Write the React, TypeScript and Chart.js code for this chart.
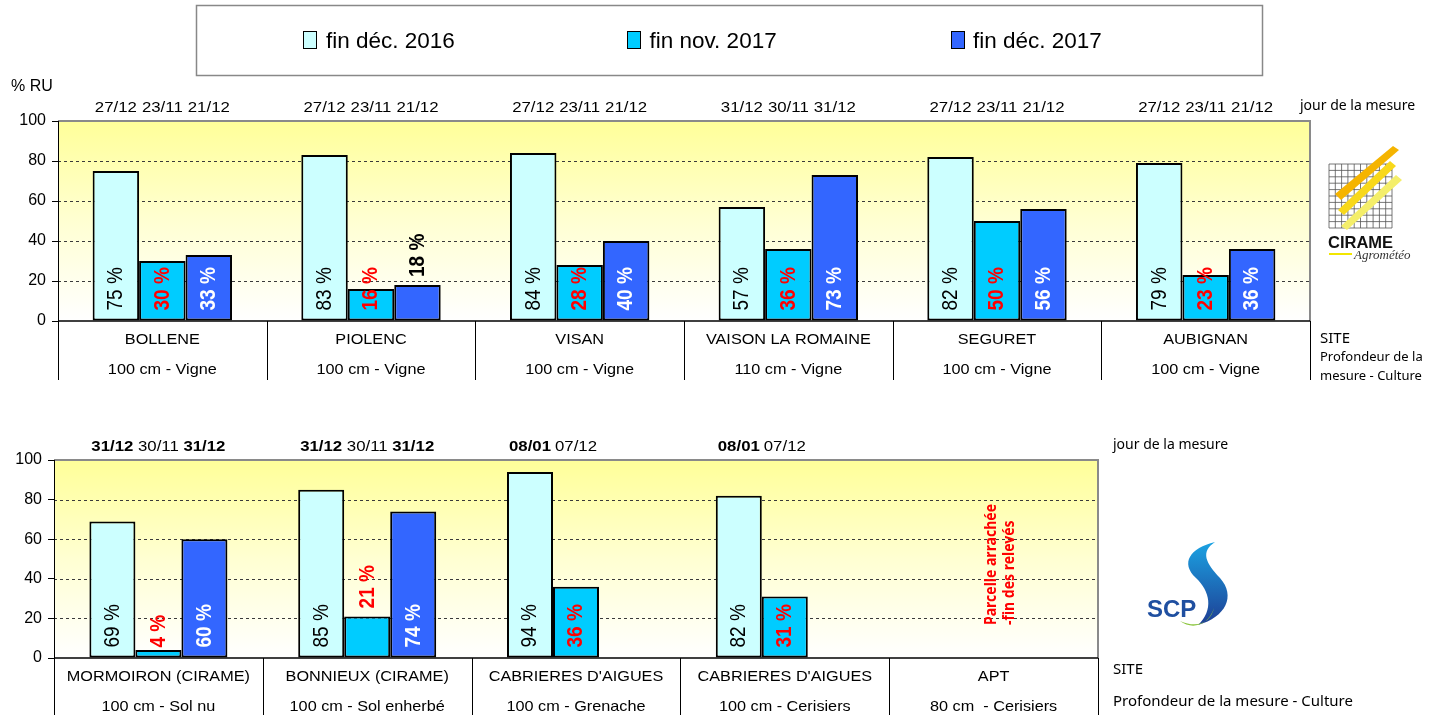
import React, { useEffect, useRef } from 'react';
import { Chart, registerables } from 'chart.js';

Chart.register(...registerables);

// ---------- data ----------
const seriesLabels = ['fin déc. 2016', 'fin nov. 2017', 'fin déc. 2017'];
const seriesColors = ['#CCFFFF', '#00CCFF', '#3366FF'];
const yTicks = [0, 20, 40, 60, 80, 100];

const topSites = ['BOLLENE', 'PIOLENC', 'VISAN', 'VAISON LA ROMAINE', 'SEGURET', 'AUBIGNAN'];
const topDepths = ['100 cm - Vigne', '100 cm - Vigne', '100 cm - Vigne', '110 cm - Vigne', '100 cm - Vigne', '100 cm - Vigne'];
const topDec2016 = [75, 83, 84, 57, 82, 79];
const topNov2017 = [30, 16, 28, 36, 50, 23];
const topDec2017 = [33, 18, 40, 73, 56, 36];
const topDates = [
  ['27/12', '23/11', '21/12'],
  ['27/12', '23/11', '21/12'],
  ['27/12', '23/11', '21/12'],
  ['31/12', '30/11', '31/12'],
  ['27/12', '23/11', '21/12'],
  ['27/12', '23/11', '21/12'],
];

const bottomSites = ['MORMOIRON (CIRAME)', 'BONNIEUX (CIRAME)', "CABRIERES D'AIGUES", "CABRIERES D'AIGUES", 'APT'];
const bottomDepths = ['100 cm - Sol nu', '100 cm - Sol enherbé', '100 cm - Grenache', '100 cm - Cerisiers', '80 cm  - Cerisiers'];
const bottomDec2016 = [69, 85, 94, 82, null];
const bottomNov2017 = [4, 21, 36, 31, null];
const bottomDec2017 = [60, 74, null, null, null];
const bottomDates = [
  ['31/12', '30/11', '31/12'],
  ['31/12', '30/11', '31/12'],
  ['08/01', '07/12', ''],
  ['08/01', '07/12', ''],
  ['', '', ''],
];
const aptNote = ['Parcelle arrachée', '-fin des relevés'];

// ---------- drawing helpers ----------
const FONT = '"Liberation Sans", Arial, sans-serif';
const S = 1.12; // horizontal stretch of the source rendering

function stretchedText(ctx: any, text: string, x: number, y: number, font: string, color: string) {
  ctx.save();
  ctx.translate(x, y);
  ctx.scale(S, 1);
  ctx.font = font;
  ctx.fillStyle = color;
  ctx.textAlign = 'center';
  ctx.textBaseline = 'middle';
  ctx.fillText(text, 0, 0);
  ctx.restore();
}

function rotatedText(ctx: any, text: string, x: number, y: number, font: string, color: string) {
  ctx.save();
  ctx.translate(x, y);
  ctx.rotate(-Math.PI / 2);
  ctx.scale(1, S);
  ctx.font = font;
  ctx.fillStyle = color;
  ctx.textAlign = 'left';
  ctx.textBaseline = 'middle';
  ctx.fillText(text, 0, 0);
  ctx.restore();
}

function makePlugin(cfg: any) {
  return {
    id: 'panelDecor',
    beforeDraw(chart: any) {
      const { ctx, chartArea: a, scales } = chart;
      const y = scales.y;
      ctx.save();
      const g = ctx.createLinearGradient(0, a.top, 0, a.bottom);
      g.addColorStop(0, '#FFFF99');
      g.addColorStop(0.5, '#FFFFD2');
      g.addColorStop(1, '#FFFFFF');
      ctx.fillStyle = g;
      ctx.fillRect(a.left, a.top, a.right - a.left, a.bottom - a.top);
      ctx.setLineDash([3, 3]);
      ctx.strokeStyle = '#3a3a3a';
      ctx.lineWidth = 1;
      yTicks.filter((v) => v > 0 && v < 100).forEach((v) => {
        const py = Math.round(y.getPixelForValue(v)) + 0.5;
        ctx.beginPath();
        ctx.moveTo(a.left, py);
        ctx.lineTo(a.right, py);
        ctx.stroke();
      });
      ctx.restore();
    },
    afterDatasetsDraw(chart: any) {
      const { ctx, chartArea: a } = chart;
      const n = chart.data.labels.length;
      const cw = (a.right - a.left) / n;
      const tb = a.bottom + cfg.tableHeight;
      ctx.save();
      // frame (top / right)
      ctx.strokeStyle = '#8a8a8a';
      ctx.lineWidth = 2;
      ctx.beginPath();
      ctx.moveTo(a.left, a.top);
      ctx.lineTo(a.right, a.top);
      ctx.lineTo(a.right, a.bottom);
      ctx.stroke();
      // table verticals
      ctx.strokeStyle = '#000';
      ctx.lineWidth = 1;
      for (let k = 0; k <= n; k++) {
        const px = Math.round(a.left + k * cw) + 0.5;
        ctx.beginPath();
        ctx.moveTo(px, k === 0 ? a.top : a.bottom);
        ctx.lineTo(px, tb);
        ctx.stroke();
      }
      // x axis
      ctx.lineWidth = 1.5;
      ctx.beginPath();
      ctx.moveTo(a.left, a.bottom);
      ctx.lineTo(a.right, a.bottom);
      ctx.stroke();
      // table text
      for (let i = 0; i < n; i++) {
        const cx = a.left + (i + 0.5) * cw;
        stretchedText(ctx, cfg.sites[i], cx, a.bottom + 19, `14.5px ${FONT}`, '#000');
        stretchedText(ctx, cfg.depths[i], cx, a.bottom + 49, `14.5px ${FONT}`, '#000');
      }
      // dates
      cfg.dates.forEach((row: string[], i: number) => {
        row.forEach((d, di) => {
          if (!d) return;
          const el = chart.getDatasetMeta(di).data[i];
          stretchedText(ctx, d, el.x, a.top - 13, `${cfg.dateBold[di] ? 'bold ' : ''}15px ${FONT}`, '#000');
        });
      });
      // value labels
      chart.data.datasets.forEach((ds: any, di: number) => {
        const meta = chart.getDatasetMeta(di);
        meta.data.forEach((el: any, i: number) => {
          const v = ds.data[i];
          if (v == null) return;
          const above = cfg.above.includes(`${di}:${i}`);
          const startY = above ? el.y - 8 : el.base - 10;
          const color = di === 1 ? '#FF0000' : di === 2 && !above ? '#FFFFFF' : '#000000';
          rotatedText(ctx, `${v} %`, el.x + 0.5, startY, `${di > 0 ? 'bold ' : ''}19px ${FONT}`, color);
        });
      });
      // notes
      if (cfg.notes) {
        Object.keys(cfg.notes).forEach((key) => {
          const cx = a.left + (Number(key) + 0.5) * cw;
          cfg.notes[key].forEach((ln: string, k: number) => {
            rotatedText(ctx, ln, cx - 2 + k * 18, a.bottom - 33, 'bold 14px "Noto Sans", sans-serif', '#FF0000');
          });
        });
      }
      ctx.restore();
    },
  };
}

function buildChart(canvas: HTMLCanvasElement, labels: string[], series: any[], cfg: any, padding: any, yWidth: number) {
  return new Chart(canvas, {
    type: 'bar',
    data: {
      labels,
      datasets: series.map((d, k) => ({
        label: seriesLabels[k],
        data: d,
        backgroundColor: seriesColors[k],
        borderColor: '#000',
        borderWidth: 2,
        borderSkipped: false,
        categoryPercentage: cfg.catPct,
        barPercentage: 1,
      })),
    },
    options: {
      responsive: false,
      maintainAspectRatio: false,
      animation: false,
      devicePixelRatio: 1,
      layout: { padding },
      plugins: { legend: { display: false }, tooltip: { enabled: false } },
      scales: {
        x: { display: false },
        y: {
          min: 0,
          max: 100,
          afterFit: (s: any) => {
            s.width = yWidth;
          },
          afterBuildTicks: (s: any) => {
            s.ticks = yTicks.map((v) => ({ value: v }));
          },
          ticks: { font: { family: FONT, size: 16 }, color: '#000', padding: 6 },
          grid: { drawOnChartArea: false, drawTicks: true, tickLength: 6, color: '#000', lineWidth: 1 },
          border: { display: false },
        },
      },
    } as any,
    plugins: [makePlugin(cfg)],
  } as any);
}

function CirameLogo() {
  const cells = [];
  for (let k = 0; k <= 10; k++) {
    cells.push(<line key={'v' + k} x1={1329 + k * 6.3} y1={164} x2={1329 + k * 6.3} y2={228} stroke="#555" strokeWidth={0.8} />);
    cells.push(<line key={'h' + k} x1={1329} y1={164 + k * 6.4} x2={1392} y2={164 + k * 6.4} stroke="#555" strokeWidth={0.8} />);
  }
  return (
    <g>
      {cells}
      <path d="M 1335 194 L 1393 146 L 1399 150 L 1341 200 Z" fill="#F5B400" />
      <path d="M 1338 210 L 1390 161 L 1396 166 L 1344 215 Z" fill="#F8D81A" />
      <path d="M 1341 226 L 1396 175 L 1402 180 L 1347 230 Z" fill="#F4EE6A" />
      <text x={1328} y={248} fontFamily={FONT} fontWeight="bold" fontSize={16.5} fill="#111">CIRAME</text>
      <line x1={1329} y1={254} x2={1352} y2={254} stroke="#F2E600" strokeWidth={2} />
      <text x={1354} y={259} fontFamily='"Liberation Serif", serif' fontStyle="italic" fontSize={13} fill="#333">Agrométéo</text>
    </g>
  );
}

function ScpLogo() {
  return (
    <g>
      <defs>
        <linearGradient id="scpBlue" x1="0" y1="0" x2="0" y2="1">
          <stop offset="0" stopColor="#1BA3E3" />
          <stop offset="1" stopColor="#1E3E94" />
        </linearGradient>
      </defs>
      <path d="M 1215 542 C 1190 548, 1180 563, 1196 578 C 1210 591, 1214 610, 1198 625 C 1226 617, 1236 596, 1220 578 C 1206 563, 1200 552, 1215 542 Z" fill="url(#scpBlue)" />
      <text x={1147} y={617} fontFamily={FONT} fontWeight="bold" fontSize={24} fill="#1F4FA0">SCP</text>
      <path d="M 1180 621 C 1192 630, 1208 626, 1214 608 C 1211 622, 1198 629, 1180 621 Z" fill="#8CC63F" />
    </g>
  );
}

export default function App() {
  const topRef = useRef<HTMLCanvasElement | null>(null);
  const botRef = useRef<HTMLCanvasElement | null>(null);

  useEffect(() => {
    const top = buildChart(
      topRef.current as HTMLCanvasElement,
      topSites,
      [topDec2016, topNov2017, topDec2017],
      {
        sites: topSites,
        depths: topDepths,
        dates: topDates,
        dateBold: [false, false, false],
        above: ['2:1'],
        tableHeight: 59,
        catPct: 0.668,
      },
      { left: 0, top: 121, right: 131, bottom: 74 },
      58
    );
    const bot = buildChart(
      botRef.current as HTMLCanvasElement,
      bottomSites,
      [bottomDec2016, bottomNov2017, bottomDec2017],
      {
        sites: bottomSites,
        depths: bottomDepths,
        dates: bottomDates,
        dateBold: [true, false, true],
        above: ['1:1'],
        notes: { 4: aptNote },
        tableHeight: 62,
        catPct: 0.661,
      },
      { left: 0, top: 65, right: 343, bottom: 57 },
      54
    );
    return () => {
      top.destroy();
      bot.destroy();
    };
  }, []);

  return (
    <div style={{ position: 'absolute', left: 0, top: 0, width: 1441, height: 715, overflow: 'hidden', background: '#fff' }}>
      <canvas ref={topRef} width={1441} height={395} style={{ position: 'absolute', left: 0, top: 0 }} />
      <canvas ref={botRef} width={1441} height={320} style={{ position: 'absolute', left: 0, top: 395 }} />
      <svg width={1441} height={715} style={{ position: 'absolute', left: 0, top: 0, pointerEvents: 'none' }}>
        <rect x={196.5} y={5.5} width={1066} height={70} fill="#fff" stroke="#888" strokeWidth={1.5} />
        {seriesLabels.map((lab, k) => (
          <g key={lab}>
            <rect x={303.5 + k * 324} y={31.5} width={13} height={17} fill={seriesColors[k]} stroke="#000" strokeWidth={1} />
            <text x={326 + k * 323.5} y={48} fontFamily={FONT} fontSize={22.5} fill="#000">{lab}</text>
          </g>
        ))}
        <text x={11} y={91} fontFamily={FONT} fontSize={16} fill="#000">% RU</text>
        <text x={1300} y={110} fontFamily='"Noto Sans", sans-serif' fontSize={14} fill="#000">jour de la mesure</text>
        <text x={1320} y={343} fontFamily='"Noto Sans", sans-serif' fontSize={15} fill="#000">SITE</text>
        <text x={1320} y={361} fontFamily='"Noto Sans", sans-serif' fontSize={13} fill="#000">Profondeur de la</text>
        <text x={1320} y={380} fontFamily='"Noto Sans", sans-serif' fontSize={13} fill="#000">mesure - Culture</text>
        <text x={1113} y={449} fontFamily='"Noto Sans", sans-serif' fontSize={14} fill="#000">jour de la mesure</text>
        <text x={1113} y={674} fontFamily='"Noto Sans", sans-serif' fontSize={15} fill="#000">SITE</text>
        <text x={1113} y={706} fontFamily='"Noto Sans", sans-serif' fontSize={15} fill="#000">Profondeur de la mesure - Culture</text>
        <CirameLogo />
        <ScpLogo />
      </svg>
    </div>
  );
}
